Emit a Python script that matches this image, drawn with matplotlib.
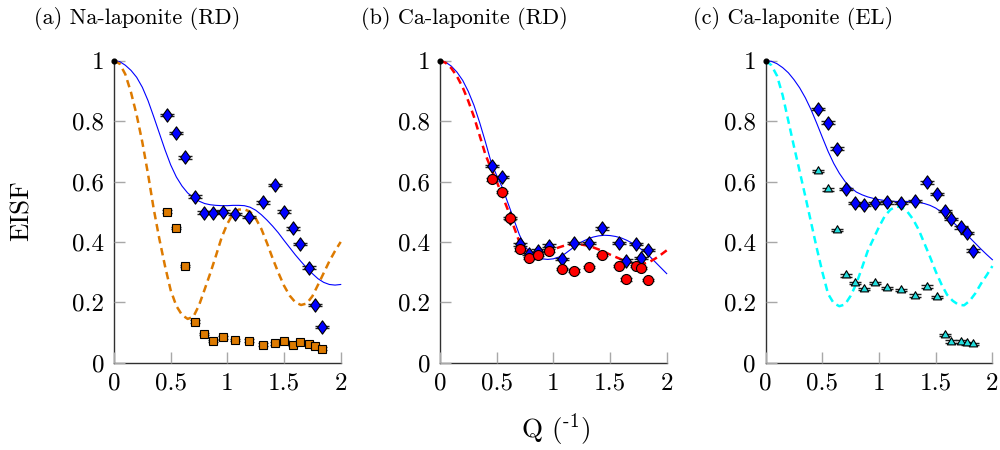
import numpy as np
import matplotlib
matplotlib.use("Agg")
import matplotlib.pyplot as plt
from matplotlib.path import Path

plt.rcParams['font.family'] = 'cmr10'
plt.rcParams['mathtext.fontset'] = 'cm'
plt.rcParams['axes.formatter.use_mathtext'] = True

# ---------------------------------------------------------------- data
# Q grid of the model curves (1/Angstrom)
q_model = np.linspace(0.0, 2.0, 41)

# (a) Na-laponite (RD)
model_a_solid = [1.000, 0.997, 0.985, 0.968, 0.945, 0.912, 0.868, 0.815, 0.760, 0.705,
                 0.655, 0.615, 0.585, 0.562, 0.547, 0.535, 0.527, 0.523, 0.521, 0.520,
                 0.520, 0.521, 0.521, 0.520, 0.515, 0.505, 0.490, 0.472, 0.452, 0.430,
                 0.405, 0.381, 0.357, 0.335, 0.314, 0.295, 0.278, 0.266, 0.259, 0.257,
                 0.259]
model_a_dashed = [1.000, 0.990, 0.955, 0.895, 0.820, 0.730, 0.625, 0.510, 0.410, 0.320,
                  0.240, 0.188, 0.158, 0.145, 0.152, 0.190, 0.243, 0.297, 0.355, 0.415,
                  0.460, 0.493, 0.507, 0.508, 0.500, 0.478, 0.443, 0.396, 0.345, 0.298,
                  0.255, 0.222, 0.200, 0.191, 0.196, 0.220, 0.258, 0.297, 0.336, 0.370,
                  0.400]
q_a = [0.465, 0.547, 0.630, 0.712, 0.794, 0.871, 0.965, 1.068, 1.194, 1.318,
       1.424, 1.503, 1.577, 1.637, 1.724, 1.772, 1.831]
eisf_a_diamond = [0.820, 0.760, 0.680, 0.550, 0.497, 0.497, 0.500, 0.492, 0.483, 0.531,
                  0.588, 0.500, 0.445, 0.393, 0.315, 0.191, 0.119]
eisf_a_square = [0.500, 0.447, 0.320, 0.136, 0.095, 0.072, 0.084, 0.076, 0.073, 0.060,
                 0.064, 0.071, 0.060, 0.067, 0.063, 0.054, 0.047]

# (b) Ca-laponite (RD)
model_b_solid = [1.000, 0.995, 0.982, 0.962, 0.935, 0.898, 0.852, 0.795, 0.732, 0.665,
                 0.620, 0.580, 0.528, 0.476, 0.424, 0.385, 0.362, 0.349, 0.344, 0.342,
                 0.344, 0.350, 0.360, 0.374, 0.388, 0.400, 0.409, 0.416, 0.420, 0.422,
                 0.421, 0.418, 0.413, 0.405, 0.395, 0.383, 0.368, 0.352, 0.333, 0.314,
                 0.295]
model_b_dashed = [1.000, 0.993, 0.975, 0.948, 0.912, 0.866, 0.814, 0.752, 0.690, 0.643,
                  0.600, 0.553, 0.505, 0.452, 0.400, 0.373, 0.360, 0.358, 0.362, 0.368,
                  0.375, 0.382, 0.388, 0.391, 0.392, 0.391, 0.388, 0.382, 0.375, 0.367,
                  0.358, 0.350, 0.342, 0.335, 0.330, 0.327, 0.328, 0.334, 0.345, 0.358,
                  0.372]
q_b = [0.462, 0.544, 0.618, 0.706, 0.785, 0.868, 0.962, 1.074, 1.185, 1.318,
       1.427, 1.583, 1.642, 1.727, 1.776, 1.833]
eisf_b_diamond = [0.651, 0.614, 0.480, 0.392, 0.360, 0.371, 0.388, 0.343, 0.397, 0.397,
                  0.445, 0.397, 0.338, 0.393, 0.346, 0.373]
eisf_b_circle = [0.607, 0.566, 0.478, 0.375, 0.346, 0.357, 0.371, 0.310, 0.305, 0.316,
                 0.357, 0.321, 0.276, 0.321, 0.313, 0.274]

# (c) Ca-laponite (EL)
model_c_solid = [1.000, 0.998, 0.990, 0.977, 0.960, 0.937, 0.910, 0.877, 0.838, 0.793,
                 0.746, 0.700, 0.660, 0.627, 0.600, 0.580, 0.565, 0.556, 0.549, 0.544,
                 0.540, 0.537, 0.535, 0.534, 0.534, 0.534, 0.533, 0.531, 0.527, 0.521,
                 0.512, 0.499, 0.483, 0.466, 0.449, 0.432, 0.414, 0.395, 0.376, 0.358,
                 0.341]
model_c_dashed = [1.000, 0.985, 0.950, 0.885, 0.800, 0.715, 0.633, 0.550, 0.465, 0.380,
                  0.300, 0.228, 0.197, 0.187, 0.193, 0.222, 0.262, 0.315, 0.370, 0.410,
                  0.450, 0.485, 0.507, 0.517, 0.515, 0.500, 0.475, 0.440, 0.395, 0.350,
                  0.302, 0.260, 0.225, 0.205, 0.192, 0.190, 0.205, 0.230, 0.262, 0.290,
                  0.320]
q_c = [0.464, 0.547, 0.628, 0.709, 0.791, 0.868, 0.962, 1.068, 1.191, 1.318,
       1.426, 1.509, 1.583, 1.636, 1.721, 1.777, 1.832]
eisf_c_diamond = [0.840, 0.795, 0.709, 0.575, 0.528, 0.522, 0.528, 0.531, 0.528, 0.536,
                  0.597, 0.559, 0.503, 0.475, 0.448, 0.430, 0.371]
eisf_c_triangle = [0.635, 0.574, 0.439, 0.289, 0.263, 0.244, 0.263, 0.247, 0.241, 0.222,
                   0.252, 0.217, 0.092, 0.070, 0.070, 0.064, 0.061]

point_err = 0.004

titles = ['(a) Na-laponite (RD)', '(b) Ca-laponite (RD)', '(c) Ca-laponite (EL)']
x_ticks = [0, 0.5, 1, 1.5, 2]
x_ticklabels = ['0', '0.5', '1', '1.5', '2']
y_ticks = [0, 0.2, 0.4, 0.6, 0.8, 1]
y_ticklabels = ['0', '0.2', '0.4', '0.6', '0.8', '1']

# ---------------------------------------------------------------- style
BLUE = '#0000ff'
ORANGE = '#dd7a00'
RED = '#ff0000'
CYAN = '#00ffff'
CYAN_FILL = '#22dddd'

thin_diamond = Path([(0, 1), (0.72, 0), (0, -1), (-0.72, 0), (0, 1)], closed=True)
triangle = Path([(0, 1), (-0.866, -0.5), (0.866, -0.5), (0, 1)], closed=True)

fig = plt.figure(figsize=(10, 4.5), dpi=100)
lefts = [0.114, 0.440, 0.7657]
axes = [fig.add_axes([l, 0.194, 0.2267, 0.6711]) for l in lefts]


def style_axes(ax):
    ax.set_xlim(0, 2)
    ax.set_ylim(0, 1)
    for side in ('top', 'right'):
        ax.spines[side].set_visible(False)
    for side in ('left', 'bottom'):
        ax.spines[side].set_color('#303030')
        ax.spines[side].set_linewidth(1.0)
        ax.spines[side].set_zorder(1)
    ax.set_xticks(x_ticks)
    ax.set_xticklabels(x_ticklabels)
    ax.set_yticks(y_ticks)
    ax.set_yticklabels(y_ticklabels)
    ax.tick_params(direction='in', length=8, width=1.0, color='#a8a8a8',
                   pad=7, labelsize=18)


def points(ax, q, y, marker, ms, face, cap, z):
    ax.errorbar(q, y, yerr=point_err, fmt='none', ecolor='#202020',
                elinewidth=0.8, capsize=cap, capthick=1.0, zorder=z, clip_on=False)
    ax.plot(q, y, linestyle='none', marker=marker, markersize=ms,
            markerfacecolor=face, markeredgecolor='black', markeredgewidth=0.8,
            zorder=z + 0.5, clip_on=False)


def solid(ax, y):
    ax.plot(q_model, y, color=BLUE, lw=0.8, zorder=2, clip_on=False)


def dashed(ax, y, color):
    ax.plot(q_model, y, color=color, lw=1.8, linestyle=(0, (3.0, 1.9)),
            zorder=2.1, clip_on=False)


ax_a, ax_b, ax_c = axes

solid(ax_a, model_a_solid)
dashed(ax_a, model_a_dashed, ORANGE)
points(ax_a, q_a, eisf_a_square, 's', 5.4, ORANGE, 3.5, 3)
points(ax_a, q_a, eisf_a_diamond, thin_diamond, 9.6, BLUE, 5.0, 4)

solid(ax_b, model_b_solid)
dashed(ax_b, model_b_dashed, RED)
points(ax_b, q_b, eisf_b_diamond, thin_diamond, 9.6, BLUE, 5.0, 3)
points(ax_b, q_b, eisf_b_circle, 'o', 7.2, RED, 4.5, 4)

solid(ax_c, model_c_solid)
dashed(ax_c, model_c_dashed, CYAN)
points(ax_c, q_c, eisf_c_triangle, triangle, 6.9, CYAN_FILL, 4.0, 3)
points(ax_c, q_c, eisf_c_diamond, thin_diamond, 9.6, BLUE, 5.0, 4)

for ax in axes:
    style_axes(ax)
    ax.plot([0], [1], marker='o', markersize=3.4, color='black',
            linestyle='none', zorder=6, clip_on=False)

title_x = [0.137, 0.464, 0.793]
for tx, t in zip(title_x, titles):
    fig.text(tx, 0.958, t, ha='center', va='center', fontsize=16)

fig.text(0.022, 0.532, 'EISF', rotation=90, ha='center', va='center', fontsize=19.5)
fig.text(0.556, 0.046, r'Q ($^{\text{-1}}$)', ha='center', va='center', fontsize=19.5)

fig.savefig('out.png', dpi=100)
